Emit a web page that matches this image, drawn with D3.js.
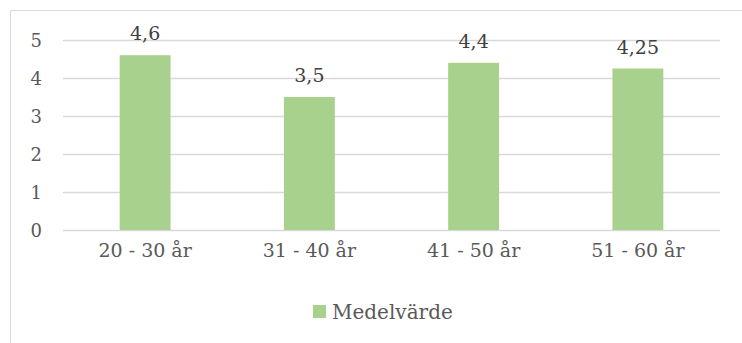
<!DOCTYPE html>
<html>
<head>
<meta charset="utf-8">
<script src="https://cdn.jsdelivr.net/npm/d3@7"></script>
<style>
  html, body { margin: 0; padding: 0; background: #fff; }
  svg { display: block; }
  text { font-family: "DejaVu Serif", "Liberation Serif", serif; }
</style>
</head>
<body>
<svg id="chart" width="742" height="343"></svg>
<script>
// Mean value per age group
const categories = ["20 - 30 år", "31 - 40 år", "41 - 50 år", "51 - 60 år"];
const values = [4.6, 3.5, 4.4, 4.25];
const valueLabels = ["4,6", "3,5", "4,4", "4,25"];
const yTicks = [0, 1, 2, 3, 4, 5];
const seriesName = "Medelvärde";

const svg = d3.select("#chart");
const W = 742, H = 343;

// chart area frame (top and left edges)
svg.append("path")
  .attr("d", `M10.5,${H} V10.5 H${W}`)
  .attr("fill", "none")
  .attr("stroke", "#d9d9d9")
  .attr("stroke-width", 1);

const plot = { left: 63, right: 720, top: 40, bottom: 230 };

const x = d3.scaleBand()
  .domain(categories)
  .range([plot.left, plot.right])
  .paddingInner(0.69)
  .paddingOuter(0.345);

const y = d3.scaleLinear()
  .domain([0, 5])
  .range([plot.bottom, plot.top]);

// horizontal gridlines
svg.append("g")
  .selectAll("line")
  .data(yTicks)
  .join("line")
  .attr("x1", plot.left)
  .attr("x2", plot.right)
  .attr("y1", d => Math.round(y(d)) + 0.5)
  .attr("y2", d => Math.round(y(d)) + 0.5)
  .attr("stroke", "#d9d9d9")
  .attr("stroke-width", 1.5);

// y axis labels
const yAxis = d3.axisLeft(y).tickValues(yTicks).tickFormat(d3.format("d")).tickSize(0).tickPadding(0);
svg.append("g")
  .attr("transform", `translate(${plot.left - 21},0)`)
  .call(yAxis)
  .call(g => g.select(".domain").remove())
  .call(g => g.selectAll("text")
    .attr("fill", "#595959")
    .style("font-size", "18px")
    .style("font-family", "DejaVu Serif, serif")
    .attr("dy", "0.38em"));

// bars
svg.append("g")
  .selectAll("rect")
  .data(values)
  .join("rect")
  .attr("x", (d, i) => x(categories[i]))
  .attr("width", x.bandwidth())
  .attr("y", d => y(d))
  .attr("height", d => y(0) - y(d))
  .attr("fill", "#a9d18e");

// value labels above the bars
svg.append("g")
  .selectAll("text")
  .data(values)
  .join("text")
  .attr("x", (d, i) => x(categories[i]) + x.bandwidth() / 2)
  .attr("y", d => y(d) - 15)
  .attr("text-anchor", "middle")
  .attr("fill", "#404040")
  .style("font-size", "19px")
  .text((d, i) => valueLabels[i]);

// category axis
const xAxis = d3.axisBottom(x).tickSize(0).tickPadding(0);
svg.append("g")
  .attr("transform", `translate(0,${plot.bottom})`)
  .call(xAxis)
  .call(g => g.select(".domain").remove())
  .call(g => g.selectAll("text")
    .attr("fill", "#595959")
    .attr("dy", 0)
    .attr("y", 27)
    .style("font-size", "19px")
    .style("font-family", "DejaVu Serif, serif"));

// legend
const legend = svg.append("g").attr("transform", "translate(313,305)");
legend.append("rect")
  .attr("width", 13)
  .attr("height", 13)
  .attr("fill", "#a9d18e");
legend.append("text")
  .attr("x", 19)
  .attr("y", 14)
  .attr("fill", "#595959")
  .style("font-size", "20px")
  .text(seriesName);
</script>
</body>
</html>
